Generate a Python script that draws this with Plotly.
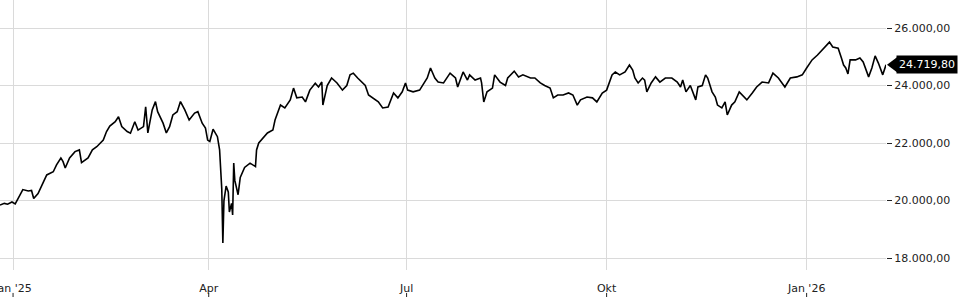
import plotly.graph_objects as go

dates = [
    "2024-12-26", "2024-12-28", "2024-12-29 12:00", "2024-12-31 12:00", "2025-01-02", "2025-01-03 12:00",
    "2025-01-05 12:00", "2025-01-08", "2025-01-09 12:00", "2025-01-10 12:00", "2025-01-12 12:00", "2025-01-15",
    "2025-01-16 12:00", "2025-01-19 12:00", "2025-01-21", "2025-01-23", "2025-01-24", "2025-01-25",
    "2025-01-27", "2025-01-29 12:00", "2025-01-31 12:00", "2025-02-01 12:00", "2025-02-04 12:00", "2025-02-06 12:00",
    "2025-02-08 12:00", "2025-02-11 12:00", "2025-02-13", "2025-02-14 12:00", "2025-02-17", "2025-02-18 12:00",
    "2025-02-20", "2025-02-22 12:00", "2025-02-24", "2025-02-26", "2025-02-27 12:00", "2025-03-02",
    "2025-03-03", "2025-03-04", "2025-03-06", "2025-03-07 12:00", "2025-03-08 12:00", "2025-03-11",
    "2025-03-12 12:00", "2025-03-14", "2025-03-15 12:00", "2025-03-17 12:00", "2025-03-19", "2025-03-21",
    "2025-03-23", "2025-03-25 12:00", "2025-03-27", "2025-03-29", "2025-03-30 12:00", "2025-03-31 12:00",
    "2025-04-01 12:00", "2025-04-03", "2025-04-05", "2025-04-06", "2025-04-06 12:00", "2025-04-07",
    "2025-04-07 12:00", "2025-04-08", "2025-04-09", "2025-04-10", "2025-04-10 12:00", "2025-04-11 12:00",
    "2025-04-12", "2025-04-12 12:00", "2025-04-13", "2025-04-14 12:00", "2025-04-15 12:00", "2025-04-17 12:00",
    "2025-04-20", "2025-04-22 12:00", "2025-04-23", "2025-04-24", "2025-04-28", "2025-04-30 12:00",
    "2025-05-01 12:00", "2025-05-04", "2025-05-06", "2025-05-08 12:00", "2025-05-10", "2025-05-11 12:00",
    "2025-05-14", "2025-05-15 12:00", "2025-05-17 12:00", "2025-05-20", "2025-05-21 12:00", "2025-05-23",
    "2025-05-23 12:00", "2025-05-25 12:00", "2025-05-27 12:00", "2025-05-30", "2025-06-01 12:00", "2025-06-03 12:00",
    "2025-06-05", "2025-06-06 12:00", "2025-06-08 12:00", "2025-06-12", "2025-06-13 12:00", "2025-06-15 12:00",
    "2025-06-18", "2025-06-20", "2025-06-22 12:00", "2025-06-25", "2025-06-27", "2025-06-29",
    "2025-06-30 12:00", "2025-07-01 12:00", "2025-07-04", "2025-07-07", "2025-07-10 12:00", "2025-07-12",
    "2025-07-14", "2025-07-15 12:00", "2025-07-18", "2025-07-21", "2025-07-23 12:00", "2025-07-24 12:00",
    "2025-07-27", "2025-07-29", "2025-07-30", "2025-08-01 12:00", "2025-08-04", "2025-08-04 12:00",
    "2025-08-05", "2025-08-05 12:00", "2025-08-07", "2025-08-09 12:00", "2025-08-10 12:00", "2025-08-13",
    "2025-08-15 12:00", "2025-08-16 12:00", "2025-08-19 12:00", "2025-08-21 12:00", "2025-08-23 12:00", "2025-08-27",
    "2025-08-29", "2025-08-31 12:00", "2025-09-02 12:00", "2025-09-05", "2025-09-06 12:00", "2025-09-08 12:00",
    "2025-09-11", "2025-09-13 12:00", "2025-09-15 12:00", "2025-09-17 12:00", "2025-09-19", "2025-09-22",
    "2025-09-24 12:00", "2025-09-26 12:00", "2025-09-29", "2025-10-01", "2025-10-03 12:00", "2025-10-05",
    "2025-10-07", "2025-10-09 12:00", "2025-10-11 12:00", "2025-10-13", "2025-10-14", "2025-10-15 12:00",
    "2025-10-17 12:00", "2025-10-18 12:00", "2025-10-19 12:00", "2025-10-21 12:00", "2025-10-23 12:00", "2025-10-25 12:00",
    "2025-10-28", "2025-10-31", "2025-11-02 12:00", "2025-11-04", "2025-11-05", "2025-11-06 12:00",
    "2025-11-08 12:00", "2025-11-10", "2025-11-11", "2025-11-12", "2025-11-14", "2025-11-15 12:00",
    "2025-11-16 12:00", "2025-11-18 12:00", "2025-11-20", "2025-11-21", "2025-11-23", "2025-11-24 12:00",
    "2025-11-25 12:00", "2025-11-27 12:00", "2025-11-29", "2025-12-01", "2025-12-04 12:00", "2025-12-07",
    "2025-12-09", "2025-12-11 12:00", "2025-12-14 12:00", "2025-12-16 12:00", "2025-12-19", "2025-12-22",
    "2025-12-24 12:00", "2025-12-27 12:00", "2025-12-30", "2026-01-01", "2026-01-03 12:00", "2026-01-06",
    "2026-01-08", "2026-01-10 12:00", "2026-01-11 12:00", "2026-01-13", "2026-01-15 12:00", "2026-01-17",
    "2026-01-18", "2026-01-19", "2026-01-20", "2026-01-21", "2026-01-23 12:00", "2026-01-25 12:00",
    "2026-01-27", "2026-01-29 12:00", "2026-01-31", "2026-02-01 12:00", "2026-02-03", "2026-02-05",
    "2026-02-06 12:00",
]

values = [
    19840, 19900, 19870, 19950, 19880, 20115,
    20380, 20330, 20350, 20070, 20240, 20650,
    20890, 21000, 21240, 21480, 21350, 21130,
    21480, 21700, 21760, 21315, 21480, 21760,
    21870, 22100, 22400, 22590, 22740, 22915,
    22570, 22400, 22340, 22740, 22450, 22570,
    23260, 22350, 23150, 23440, 23090, 22690,
    22350, 22570, 22975, 23090, 23440, 23150,
    22800, 23040, 23090, 22690, 22520, 22100,
    22050, 22480, 22220, 21760, 21000, 20400,
    18520, 20000, 20500, 20300, 19600, 19900,
    19500, 21300, 20700, 20200, 20800, 21150,
    21300, 21180, 21760, 22000, 22350, 22450,
    22800, 23320, 23220, 23500, 23910, 23570,
    23600, 23430, 23840, 24080, 23950, 24120,
    23320, 24000, 24260, 24090, 23840, 24000,
    24370, 24430, 24260, 24000, 23670, 23570,
    23430, 23220, 23250, 23740, 23570, 23780,
    24090, 23840, 23780, 23840, 24260, 24610,
    24260, 24120, 24090, 24430, 24260, 23950,
    24470, 24190, 24370, 24190, 24260, 24090,
    23670, 23430, 23780, 23910, 24370, 24120,
    24000, 24260, 24500, 24300, 24370, 24260,
    24260, 24090, 24000, 23910, 23570, 23670,
    23670, 23740, 23670, 23320, 23500, 23600,
    23570, 23430, 23740, 23840, 24370, 24470,
    24370, 24470, 24710, 24540, 24260, 24090,
    24260, 24190, 23780, 24090, 24300, 24120,
    24260, 24260, 24120, 23950, 24190, 23780,
    24000, 23670, 23500, 23950, 24000, 24370,
    24260, 23780, 23600, 23320, 23220, 23430,
    22975, 23320, 23430, 23780, 23500, 23740,
    23950, 24120, 24090, 24430, 24260, 23950,
    24260, 24300, 24370, 24610, 24890, 25060,
    25230, 25410, 25510, 25340, 25300, 24960,
    24710, 24610, 24400, 24890, 24890, 24960,
    24820, 24300, 24610, 25030, 24780, 24370,
    24719.80,
]

tick_dates = ["2025-01-01", "2025-04-01", "2025-07-01", "2025-10-01", "2026-01-01"]
tick_text = ["Jan '25", "Apr", "Jul", "Okt", "Jan '26"]
y_ticks = [18000, 20000, 22000, 24000, 26000]
last_label = "24.719,80"

font = "DejaVu Sans, Verdana, sans-serif"
grid = "#dadada"

fig = go.Figure()
fig.add_trace(go.Scatter(
    x=dates, y=values, mode="lines",
    line=dict(color="#000000", width=1.6),
    hoverinfo="skip", showlegend=False,
))

# small x tick marks below labels
for d in tick_dates:
    fig.add_shape(type="line", xref="x", yref="paper", x0=d, x1=d, y0=-0.085, y1=-0.1,
                  line=dict(color="#222", width=1))

# last price marker (arrow + box)
fig.add_shape(type="path", xref="paper", yref="y", xsizemode="pixel", ysizemode="pixel",
              xanchor=1, yanchor=values[-1],
              path="M1,0 L11,7.5 L11,-7.5 Z", fillcolor="#000", line=dict(width=0))
fig.add_annotation(x=1, xref="paper", y=values[-1], yref="y", text=last_label,
                   showarrow=False, xanchor="left", yanchor="middle", xshift=10,
                   bgcolor="#000", font=dict(color="#fff", size=11, family=font),
                   borderpad=2)

fig.update_layout(
    width=960, height=300,
    margin=dict(l=0, r=74, t=0, b=30),
    paper_bgcolor="#fff", plot_bgcolor="#fff",
    separators=",.",
    font=dict(family=font, size=11, color="#222"),
    xaxis=dict(
        type="date", range=["2024-12-26", "2026-02-06 12:00"],
        tickvals=tick_dates, ticktext=tick_text,
        showgrid=True, gridcolor=grid, gridwidth=1,
        showline=False, zeroline=False, ticks="",
        ticklabelstandoff=10, ticklabeloverflow="allow",
        tickfont=dict(size=11, color="#222"), automargin=False,
    ),
    yaxis=dict(
        side="right", range=[17583, 26974],
        tickvals=y_ticks, tickformat=",.2f",
        showgrid=True, gridcolor=grid, gridwidth=1,
        showline=False, zeroline=False,
        ticks="outside", ticklen=5, tickcolor="#222", tickwidth=1,
        tickfont=dict(size=11, color="#222"), automargin=False,
    ),
)

fig.write_html("out.html")
